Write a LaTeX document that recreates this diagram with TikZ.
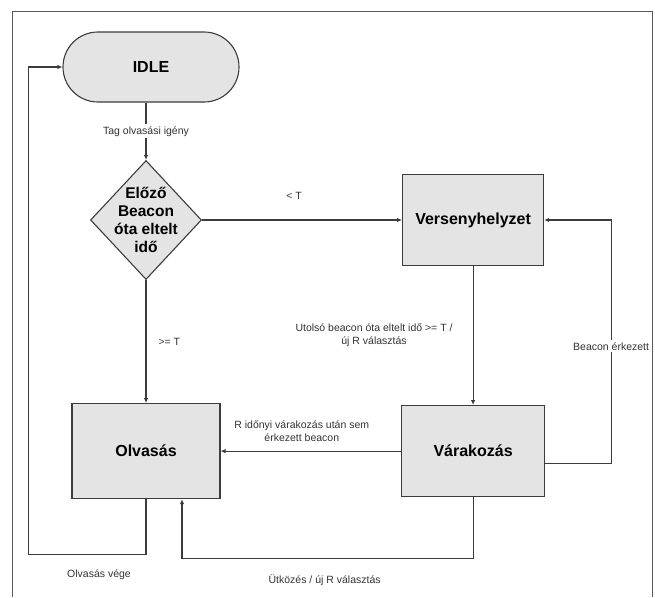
\documentclass[tikz,border=0pt]{standalone}
\usepackage{fontspec}
\setmainfont{Liberation Sans}
\usepackage{tikz}
\usetikzlibrary{positioning,arrows.meta,calc,shapes.geometric}
\usepackage{xcolor}
\definecolor{boxfill}{RGB}{228,228,228}
\definecolor{linecol}{RGB}{60,60,60}
\definecolor{framecol}{RGB}{90,90,90}

\begin{document}
\begin{tikzpicture}[x=1pt, y=-1pt,
  statebox/.style={draw=linecol, line width=1.1pt, fill=boxfill, font=\bfseries\fontsize{16}{18}\selectfont},
  decision/.style={diamond, draw=linecol, line width=1.1pt, fill=boxfill, minimum width=111pt, minimum height=119pt,
    inner sep=-14pt, align=center, font=\bfseries\fontsize{15.5}{18}\selectfont},
  lbl/.style={font=\fontsize{10.5}{13}\selectfont, text=black!80, inner sep=2pt},
  arr/.style={-{Latex[length=5pt,width=4.5pt]}, draw=linecol, line width=1.1pt}
]
\useasboundingbox (0,0) rectangle (655,597);
\draw[framecol, line width=1pt] (12,597) -- (12,11) -- (652,11) -- (652,597);

\node[statebox, rounded corners=34.9pt, minimum width=176pt, minimum height=70pt] (idle) at (151,67) {IDLE};
\node[decision] (dec) at (146,220) {Előző\\Beacon\\óta eltelt\\idő};
\node[statebox, minimum width=141pt, minimum height=91pt, right=200pt of dec] (vers) {Versenyhelyzet};
\node[statebox, minimum width=148pt, minimum height=95pt, below=123pt of dec] (olv) {Olvasás};
\node[statebox, minimum width=143pt, minimum height=91pt, below=139pt of vers] (var) {Várakozás};
\coordinate (br) at ($(vers.east)+(67,0)$);

\draw[arr] (idle.south -| dec.north) -- node[lbl, fill=white] {Tag olvasási igény} (dec.north);
\draw[arr] (dec.east) -- node[lbl, above=18pt, pos=0.46] {< T} (vers.west);
\draw[arr] (dec.south) -- node[lbl, right=10pt] {>= T} (olv.north);
\draw[arr] (vers.south) -- node[lbl, left=18pt, align=center] {Utolsó beacon óta eltelt idő >= T /\\új R választás} (var.north);
\draw[arr] (var.west) -- node[lbl, above=7pt, pos=0.55, align=center] {R időnyi várakozás után sem\\érkezett beacon} (olv.east);
\draw[arr] ([yshift=-12pt]var.east) -| node[lbl, fill=white, pos=0.74] {Beacon érkezett} (br) -- (vers.east);
\draw[arr] (var.south) |- node[lbl, below=14pt, pos=0.755] {Ütközés / új R választás} ($(olv.south)+(36,59)$) -- ([xshift=36pt]olv.south);
\draw[arr] (olv.south) -- ++(0,55) -| node[lbl, below=13.5pt, pos=0.2] {Olvasás vége} ($(idle.west)+(-34,0)$) -- (idle.west);
\end{tikzpicture}
\end{document}
